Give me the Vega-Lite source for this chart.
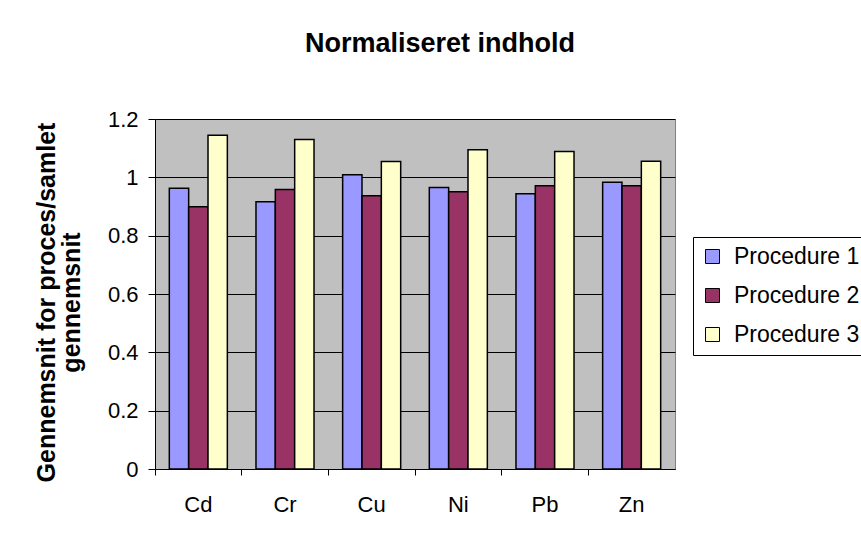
{
  "$schema": "https://vega.github.io/schema/vega-lite/v6.json",
  "width": 520,
  "height": 350,
  "autosize": {"type": "none"},
  "padding": {"left": 155, "top": 119, "right": 186, "bottom": 66},
  "background": "white",
  "title": {
    "text": "Normaliseret indhold",
    "font": "Liberation Sans",
    "fontSize": 27,
    "fontWeight": "bold",
    "color": "black",
    "anchor": "middle",
    "dx": 25,
    "offset": 50
  },
  "data": {
    "values": [
      {"metal": "Cd", "procedure": "Procedure 1", "value": 0.963},
      {"metal": "Cd", "procedure": "Procedure 2", "value": 0.899},
      {"metal": "Cd", "procedure": "Procedure 3", "value": 1.144},
      {"metal": "Cr", "procedure": "Procedure 1", "value": 0.916},
      {"metal": "Cr", "procedure": "Procedure 2", "value": 0.958},
      {"metal": "Cr", "procedure": "Procedure 3", "value": 1.13},
      {"metal": "Cu", "procedure": "Procedure 1", "value": 1.009},
      {"metal": "Cu", "procedure": "Procedure 2", "value": 0.937},
      {"metal": "Cu", "procedure": "Procedure 3", "value": 1.054},
      {"metal": "Ni", "procedure": "Procedure 1", "value": 0.965},
      {"metal": "Ni", "procedure": "Procedure 2", "value": 0.951},
      {"metal": "Ni", "procedure": "Procedure 3", "value": 1.095},
      {"metal": "Pb", "procedure": "Procedure 1", "value": 0.944},
      {"metal": "Pb", "procedure": "Procedure 2", "value": 0.971},
      {"metal": "Pb", "procedure": "Procedure 3", "value": 1.089},
      {"metal": "Zn", "procedure": "Procedure 1", "value": 0.983},
      {"metal": "Zn", "procedure": "Procedure 2", "value": 0.971},
      {"metal": "Zn", "procedure": "Procedure 3", "value": 1.055}
    ]
  },
  "mark": {"type": "bar", "stroke": "black", "strokeWidth": 1.5},
  "encoding": {
    "x": {
      "field": "metal",
      "type": "nominal",
      "sort": null,
      "scale": {"paddingInner": 0, "paddingOuter": 0},
      "axis": {
        "title": null,
        "labelAngle": 0,
        "labelFont": "Liberation Sans",
        "labelFontSize": 22,
        "labelColor": "black",
        "domainColor": "black",
        "domainWidth": 1,
        "tickColor": "black",
        "tickWidth": 1,
        "tickSize": 6,
        "bandPosition": 0,
        "labelPadding": 19
      }
    },
    "xOffset": {
      "field": "procedure",
      "type": "nominal",
      "scale": {"paddingInner": 0, "paddingOuter": 0.74}
    },
    "y": {
      "field": "value",
      "type": "quantitative",
      "scale": {"domain": [0, 1.2], "nice": false},
      "axis": {
        "values": [0, 0.2, 0.4, 0.6, 0.8, 1, 1.2],
        "format": "~g",
        "labelFont": "Liberation Sans",
        "labelFontSize": 22,
        "labelColor": "black",
        "labelPadding": 10,
        "domainColor": "black",
        "domainWidth": 1,
        "tickColor": "black",
        "tickWidth": 1,
        "tickSize": 7,
        "grid": true,
        "gridColor": "black",
        "gridWidth": 1,
        "title": ["Gennemsnit for proces/samlet", "gennemsnit"],
        "titleFont": "Liberation Sans",
        "titleFontSize": 25,
        "titleFontWeight": "bold",
        "titleColor": "black",
        "titleLineHeight": 25,
        "titleAngle": -90,
        "titleAlign": "center",
        "titleBaseline": "middle",
        "titleX": -109,
        "titleY": 183
      }
    },
    "color": {
      "field": "procedure",
      "type": "nominal",
      "scale": {
        "domain": ["Procedure 1", "Procedure 2", "Procedure 3"],
        "range": ["#9999FF", "#993366", "#FFFFCC"]
      },
      "legend": {
        "title": null,
        "orient": "none",
        "legendX": 538,
        "legendY": 118,
        "strokeColor": "black",
        "fillColor": "white",
        "padding": 8,
        "symbolType": "square",
        "symbolSize": 196,
        "symbolStrokeColor": "black",
        "symbolStrokeWidth": 1,
        "symbolOpacity": 1,
        "labelFont": "Liberation Sans",
        "labelFontSize": 23,
        "labelColor": "black",
        "labelOffset": 10,
        "rowPadding": 15
      }
    }
  },
  "config": {
    "view": {"fill": "#C0C0C0", "stroke": "#808080", "strokeWidth": 1}
  }
}
